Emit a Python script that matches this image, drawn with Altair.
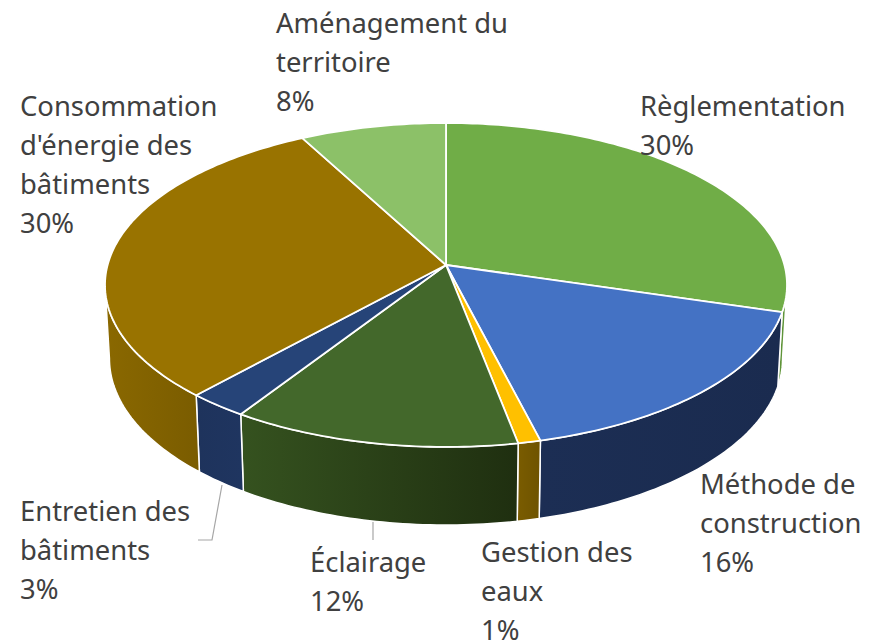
import math
import altair as alt
import pandas as pd

# ---- chart data ----
categories = ["Règlementation", "Méthode de construction", "Gestion des eaux", "Éclairage",
              "Entretien des bâtiments", "Consommation d'énergie des bâtiments", "Aménagement du territoire"]
values = [29.6, 16.45, 0.95, 12.15, 2.55, 30.5, 7.8]
percent_labels = ["30%", "16%", "1%", "12%", "3%", "30%", "8%"]

# ---- label text wrapping ----
label_lines = [["Règlementation"], ["Méthode de", "construction"], ["Gestion des", "eaux"], ["Éclairage"],
               ["Entretien des", "bâtiments"], ["Consommation", "d'énergie des", "bâtiments"],
               ["Aménagement du", "territoire"]]

# ---- styles ----
top_colors = ["#70AD47", "#4472C4", "#FFC000", "#43682B", "#264478", "#997300", "#8CC168"]
wall_stops = [["#5f9439", "#5f9439"], ["#1c2e54", "#1a2b4f"], ["#7a5c00", "#6e5300"], ["#35521f", "#1f2f10"],
              ["#1e335c", "#1f3560"], ["#8a6800", "#7a5c00"], ["#8CC168", "#8CC168"]]

# ---- layout (image pixels) ----
W, H = 861, 635
label_x = [640, 700, 481, 310, 20, 20, 276]
label_y = [116, 494, 562, 572, 521, 116, 33]
LINE = 39
CX, CY, A, B, P = 446, 265, 338.4, 159.5, 0.1234
BX, BY, BSY = 0.987, 338, 1.028
STEP = 1.0  # degrees per outline vertex
VIS0, VIS1 = 97, 263  # front-facing part of the rim, in degrees


def project(deg, lower=False):
    t = math.radians(deg)
    u, v = math.sin(t), math.cos(t)
    d = 1 + P * v
    px, py = A * u / d, -B * v / d
    if lower:
        return CX + BX * px, BY + BSY * py
    return CX + px, CY + py


def arc(a0, a1):
    n = max(2, int(abs(a1 - a0) / STEP) + 1)
    return [a0 + (a1 - a0) * i / (n - 1) for i in range(n)]


total = sum(values)
edges = [0.0]
for val in values:
    edges.append(edges[-1] + val / total * 360)

xs = alt.Scale(domain=[8, 8 + W], nice=False, zero=False)
ys = alt.Scale(domain=[8 + H, 8], nice=False, zero=False)


def polygon(points, **mark):
    df = pd.DataFrame({"x": [p[0] for p in points], "y": [p[1] for p in points], "i": range(len(points))})
    return alt.Chart(df).mark_line(filled=True, **mark).encode(
        x=alt.X("x:Q", scale=xs, axis=None),
        y=alt.Y("y:Q", scale=ys, axis=None),
        order="i:Q",
    )


layers = []
# side walls: only the front-facing part of each slice's rim
for k in range(len(values)):
    a0, a1 = max(edges[k], VIS0), min(edges[k + 1], VIS1)
    if a1 <= a0:
        continue
    angles = arc(a0, a1)
    pts = [project(a) for a in angles] + [project(a, True) for a in reversed(angles)]
    pts.append(pts[0])
    grad = alt.Gradient(gradient="linear", x1=0, x2=1, y1=0, y2=0,
                        stops=[alt.GradientStop(color=wall_stops[k][0], offset=0),
                               alt.GradientStop(color=wall_stops[k][1], offset=1)])
    layers.append(polygon(pts, fill=grad, stroke="white", strokeWidth=1.5, strokeJoin="round"))

# top faces
for k in range(len(values)):
    pts = [(CX, CY)] + [project(a) for a in arc(edges[k], edges[k + 1])] + [(CX, CY)]
    layers.append(polygon(pts, fill=top_colors[k], stroke="white", strokeWidth=1.8, strokeJoin="round"))

# leader lines
leader_x = [[373, 373], [222, 212, 198]]
leader_y = [[522, 540], [485, 540, 540]]
for lx, ly in zip(leader_x, leader_y):
    df = pd.DataFrame({"x": lx, "y": ly, "i": range(len(lx))})
    layers.append(alt.Chart(df).mark_line(color="#a6a6a6", strokeWidth=1.2).encode(
        x=alt.X("x:Q", scale=xs, axis=None), y=alt.Y("y:Q", scale=ys, axis=None), order="i:Q"))

# labels
rows = []
for k, lines in enumerate(label_lines):
    for j, txt in enumerate(lines + [percent_labels[k]]):
        rows.append({"x": label_x[k], "y": label_y[k] + j * LINE, "t": txt})
layers.append(alt.Chart(pd.DataFrame(rows)).mark_text(
    font="Noto Sans", fontSize=27.4, color="#404040", align="left", baseline="alphabetic", clip=False).encode(
    x=alt.X("x:Q", scale=xs, axis=None), y=alt.Y("y:Q", scale=ys, axis=None), text="t:N"))

chart = alt.layer(*layers).properties(
    width=W, height=H, padding=0, autosize=alt.AutoSizeParams(type="none"),
    background="white",
).configure_view(stroke=None)

chart.save("out.html", embed_options={"renderer": "svg", "actions": False})
